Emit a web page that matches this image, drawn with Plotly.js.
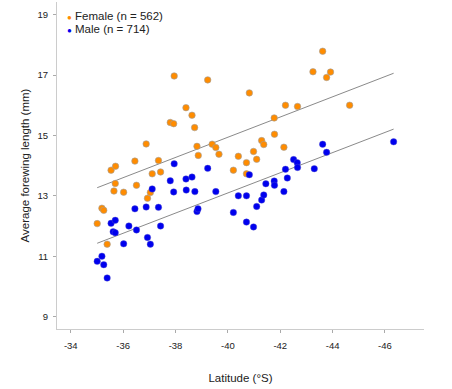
<!DOCTYPE html>
<html>
<head>
<meta charset="utf-8">
<script src="https://cdn.plot.ly/plotly-3.0.1.min.js"></script>
<style>html,body{margin:0;padding:0;background:#fff}#chart{width:452px;height:389px}</style>
</head>
<body>
<div id="chart"></div>
<script>
const femaleLat = [-35.01,-35.19,-35.26,-35.39,-35.54,-35.71,-35.70,-35.65,-36.02,-36.45,-36.51,-36.88,-36.93,-37.04,-37.11,-37.35,-37.43,-37.80,-37.93,-37.95,-38.40,-38.63,-38.73,-38.82,-38.87,-39.23,-39.40,-39.54,-39.66,-40.21,-40.40,-40.71,-40.71,-40.82,-40.98,-41.10,-41.29,-41.37,-41.77,-41.78,-42.14,-42.20,-42.66,-43.25,-43.62,-43.77,-43.92,-44.65];
const femaleLen = [12.08,12.59,12.52,11.40,13.85,13.98,13.41,13.16,13.12,14.15,13.35,14.72,12.92,13.11,13.73,14.17,13.79,15.43,15.39,16.97,15.92,15.67,15.26,14.64,14.34,16.84,14.71,14.60,14.38,13.85,14.31,14.10,13.73,16.41,14.47,14.21,14.83,14.70,15.58,15.04,14.61,16.00,15.96,17.11,17.79,16.92,17.10,16.00];
const maleLat = [-35.01,-35.19,-35.26,-35.39,-35.54,-35.70,-35.62,-35.70,-36.02,-36.22,-36.45,-36.51,-36.88,-36.93,-37.04,-37.11,-37.35,-37.43,-37.80,-37.95,-37.93,-38.40,-38.41,-38.63,-38.74,-38.82,-38.86,-39.23,-39.54,-40.21,-40.40,-40.71,-40.71,-40.82,-40.98,-41.10,-41.29,-41.37,-41.45,-41.77,-41.78,-42.14,-42.20,-42.27,-42.51,-42.65,-42.66,-43.30,-43.62,-43.77,-46.33];
const maleLen = [10.83,11.00,10.72,10.28,12.09,12.19,11.81,11.78,11.41,12.00,12.57,11.87,12.63,11.62,11.40,13.23,12.62,12.00,13.50,14.06,13.13,13.56,13.19,13.62,13.14,12.48,12.57,13.91,13.14,12.45,13.00,13.00,12.13,13.70,11.97,12.65,12.86,13.03,13.40,13.49,13.35,13.14,13.88,13.59,14.20,14.10,13.94,13.90,14.71,14.44,14.79];
const fitLat = [-35.01,-46.33];
const femaleFit = [13.27,17.06];
const maleFit = [11.43,15.21];
const seriesNames = ["Female (n = 562)","Male (n = 714)"];
const seriesColors = ["#FF8C00","#0000EE"];
const xTicks = [-34,-36,-38,-40,-42,-44,-46];
const yTicks = [9,11,13,15,17,19];

const FONT = "Liberation Sans, Arial, sans-serif";
const traces = [
  {x: fitLat, y: femaleFit, mode: "lines", line: {color: "#8a8a8a", width: 1}, showlegend: false, hoverinfo: "skip"},
  {x: fitLat, y: maleFit, mode: "lines", line: {color: "#8a8a8a", width: 1}, showlegend: false, hoverinfo: "skip"},
  {x: femaleLat, y: femaleLen, mode: "markers", name: seriesNames[0], showlegend: false,
   marker: {color: seriesColors[0], size: 6.5, line: {color: "#a0a0a0", width: 0.6}}},
  {x: maleLat, y: maleLen, mode: "markers", name: seriesNames[1], showlegend: false,
   marker: {color: seriesColors[1], size: 6.5, line: {color: "#5555cc", width: 0.4}}}
];
const legendY = [0.9587, 0.9174];
const annotations = seriesNames.map((n, i) => ({
  xref: "paper", yref: "paper", x: 0.0205, y: legendY[i], xanchor: "left", yanchor: "middle",
  showarrow: false, align: "left",
  text: "<span style='color:" + seriesColors[i] + ";font-size:8px'>●</span> " + n,
  font: {size: 11.5, family: FONT, color: "#222"}
}));
const layout = {
  width: 452, height: 389,
  margin: {l: 57, r: 28, t: 2, b: 60},
  paper_bgcolor: "#fff", plot_bgcolor: "#fff",
  font: {family: FONT, color: "#222", size: 11},
  showlegend: false,
  annotations: annotations,
  xaxis: {
    range: [-33.475, -47.49], tickvals: xTicks, ticktext: xTicks.map(String),
    showgrid: false, zeroline: false, showline: true, linecolor: "#cccccc", linewidth: 1,
    ticks: "outside", ticklen: 3, tickcolor: "#aaaaaa", tickwidth: 1,
    tickfont: {size: 9.5, family: FONT, color: "#222"}, ticklabelstandoff: 5,
    title: {text: "Latitude (°S)", font: {size: 11.5, family: FONT, color: "#222"}, standoff: 23}
  },
  yaxis: {
    range: [8.59, 19.42], tickvals: yTicks, ticktext: yTicks.map(String),
    showgrid: false, zeroline: false, showline: true, linecolor: "#cccccc", linewidth: 1,
    ticks: "outside", ticklen: 3, tickcolor: "#aaaaaa", tickwidth: 1,
    tickfont: {size: 9.5, family: FONT, color: "#222"}, ticklabelstandoff: 3,
    title: {text: "Average forewing length (mm)", font: {size: 11.5, family: FONT, color: "#222"}, standoff: 5}
  }
};
Plotly.newPlot("chart", traces, layout, {displayModeBar: false, staticPlot: true});
</script>
</body>
</html>
